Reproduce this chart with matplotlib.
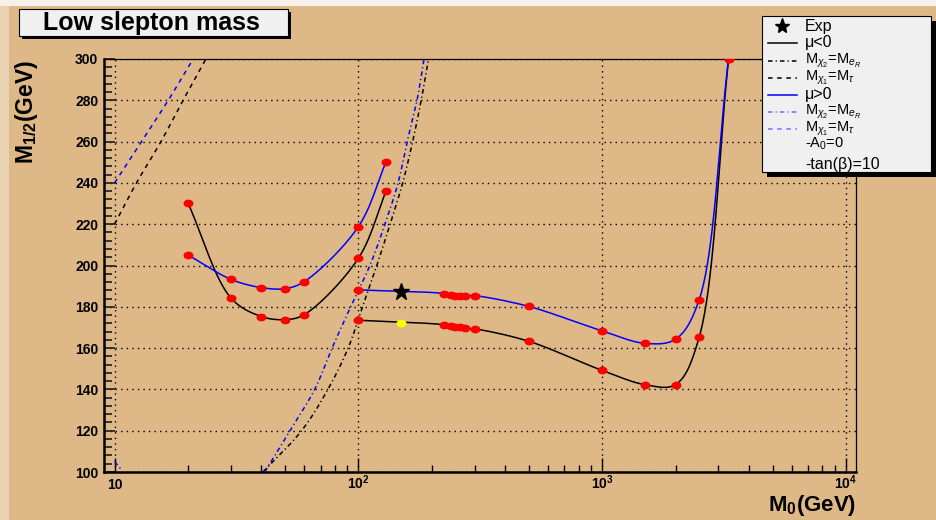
import numpy as np
import matplotlib
matplotlib.use("Agg")
import matplotlib.pyplot as plt
from matplotlib.path import Path
from matplotlib.transforms import Affine2D
from matplotlib.patches import Rectangle
from matplotlib.ticker import MultipleLocator, FixedLocator, NullFormatter

plt.rcParams["font.family"] = ["Liberation Sans", "DejaVu Sans"]
plt.rcParams["mathtext.fontset"] = "custom"
plt.rcParams["mathtext.rm"] = "Liberation Sans"
plt.rcParams["mathtext.it"] = "Liberation Sans:italic"
plt.rcParams["mathtext.bf"] = "Liberation Sans:bold"
plt.rcParams["mathtext.sf"] = "Liberation Sans"

# ---------------- data ----------------
# low-M0 branch of the exclusion contour
m0_low = [20, 30, 40, 50, 60, 100, 130]
m12_low_neg = [230.3, 184.3, 175.3, 173.8, 176.2, 203.5, 236.2]
m12_low_pos = [205.1, 193.3, 189.3, 188.8, 192.2, 218.8, 250.3]

# high-M0 branch
m0_high = [100, 225, 240, 250, 260, 275, 300, 500, 1000, 1500, 2000, 2500, 3300]
m12_high_neg = [173.5, 171.3, 170.5, 170.4, 170.3, 169.5, 169.3, 163.3, 149.2,
                142.3, 142.3, 165.2, 300]
m12_high_pos = [188.2, 186.4, 185.5, 185.4, 185.4, 185.4, 185.4, 180.2, 168.3,
                162.3, 164.3, 183.4, 300]

# experimental point
exp_m0 = [150]
exp_m12_pos = [187.3]
exp_m12_neg = [172.3]

# M_chi1 = M_stau boundaries
tau_neg_m0 = [10, 12.3, 15.5, 19.1, 23.7]
tau_neg_m12 = [220, 240, 260, 280, 300]
tau_pos_m0 = [10, 12.9, 16.6, 21.0]
tau_pos_m12 = [240, 260, 280, 300]

# M_chi2 = M_eR boundaries
eR_m12 = [100, 120, 140, 160, 180, 200, 220, 240, 260, 280, 300]
eR_neg_m0 = [40.6, 58.5, 75, 90.8, 104, 119, 135, 152, 167, 181, 194]
eR_pos_m0 = [41.3, 52.4, 66.2, 78, 93, 111.5, 128.5, 145.5, 158.6, 174, 186]
eR_pos_edge_m0 = [10, 10.7]
eR_pos_edge_m12 = [105, 101]

y_ticks = [100, 120, 140, 160, 180, 200, 220, 240, 260, 280, 300]
x_ticks = [10, 100, 1000, 10000]
x_tick_labels = ["10", r"$\mathbf{10^{2}}$", r"$\mathbf{10^{3}}$", r"$\mathbf{10^{4}}$"]

# ---------------- figure ----------------
W, H = 937, 520
BG = "#deb887"
fig = plt.figure(figsize=(W / 100, H / 100), dpi=100, facecolor=BG)

AX_L, AX_R, AX_T, AX_B = 104, 856, 59, 472
XMIN, XMAX = 9.05, 11000
YMIN, YMAX = 100, 300
ax = fig.add_axes([AX_L / W, 1 - AX_B / H, (AX_R - AX_L) / W, (AX_B - AX_T) / H])
ax.set_facecolor(BG)
ax.set_xscale("log")
ax.set_xlim(XMIN, XMAX)
ax.set_ylim(YMIN, YMAX)

kx = (AX_R - AX_L) / np.log10(XMAX / XMIN)
ky = (AX_B - AX_T) / (YMAX - YMIN)


def smooth(xs, ys, n=40):
    """Centripetal Catmull-Rom curve through the points, in screen-like units."""
    P = np.column_stack([np.log10(xs) * kx, np.asarray(ys, float) * ky])
    if len(P) < 3:
        return np.asarray(xs, float), np.asarray(ys, float)
    P = np.vstack([2 * P[0] - P[1], P, 2 * P[-1] - P[-2]])
    segs = []
    for i in range(1, len(P) - 2):
        p0, p1, p2, p3 = P[i - 1], P[i], P[i + 1], P[i + 2]
        t0 = 0.0
        t1 = t0 + np.linalg.norm(p1 - p0) ** 0.5
        t2 = t1 + np.linalg.norm(p2 - p1) ** 0.5
        t3 = t2 + np.linalg.norm(p3 - p2) ** 0.5
        t = np.linspace(t1, t2, n)[:, None]
        A1 = (t1 - t) / (t1 - t0) * p0 + (t - t0) / (t1 - t0) * p1
        A2 = (t2 - t) / (t2 - t1) * p1 + (t - t1) / (t2 - t1) * p2
        A3 = (t3 - t) / (t3 - t2) * p2 + (t - t2) / (t3 - t2) * p3
        B1 = (t2 - t) / (t2 - t0) * A1 + (t - t0) / (t2 - t0) * A2
        B2 = (t3 - t) / (t3 - t1) * A2 + (t - t1) / (t3 - t1) * A3
        C = (t2 - t) / (t2 - t1) * B1 + (t - t1) / (t2 - t1) * B2
        segs.append(C if i == 1 else C[1:])
    C = np.vstack(segs)
    return 10 ** (C[:, 0] / kx), C[:, 1] / ky


dashed = (0, (3.0, 3.0))
dashdot = (0, (3.0, 2.0, 0.8, 2.0))

# boundaries
ax.plot(*smooth(tau_neg_m0, tau_neg_m12), color="black", lw=1.1, ls=dashed, zorder=3)
ax.plot(*smooth(tau_pos_m0, tau_pos_m12), color="blue", lw=1.1, ls=dashed, zorder=3)
ax.plot(*smooth(eR_neg_m0, eR_m12), color="black", lw=1.1, ls=dashdot, zorder=3)
ax.plot(*smooth(eR_pos_m0, eR_m12), color="blue", lw=1.1, ls=dashdot, zorder=3)
ax.plot(eR_pos_edge_m0, eR_pos_edge_m12, color="blue", lw=1.1, ls=dashdot, zorder=3)

# contours
ax.plot(*smooth(m0_low, m12_low_neg), color="black", lw=1.1, zorder=4)
ax.plot(*smooth(m0_low, m12_low_pos), color="blue", lw=1.1, zorder=4)
ax.plot(*smooth(m0_high, m12_high_neg), color="black", lw=1.1, zorder=4)
ax.plot(*smooth(m0_high, m12_high_pos), color="blue", lw=1.1, zorder=4)

ellipse = Path.unit_circle().transformed(Affine2D().scale(1.0, 0.78))
mk = dict(marker=ellipse, ms=7.2, ls="none", mec="none", zorder=5)
for xs, ys in [(m0_low, m12_low_neg), (m0_low, m12_low_pos),
               (m0_high, m12_high_neg), (m0_high, m12_high_pos)]:
    ax.plot(xs, ys, mfc="red", **mk)
ax.plot(exp_m0, exp_m12_neg, mfc="yellow", **mk)
ax.plot(exp_m0, exp_m12_pos, marker="*", ms=12.5, color="black", ls="none", zorder=6)

# axes styling
ax.set_yticks(y_ticks)
ax.set_yticklabels([str(v) for v in y_ticks], fontweight="bold", fontsize=10)
ax.yaxis.set_minor_locator(MultipleLocator(4))
ax.set_xticks(x_ticks)
ax.set_xticklabels(x_tick_labels, fontweight="bold", fontsize=10, va="baseline")
ax.xaxis.set_minor_locator(FixedLocator([m * 10 ** e for e in range(1, 4) for m in range(2, 10)]))
ax.xaxis.set_minor_formatter(NullFormatter())
ax.tick_params(axis="y", which="major", direction="in", length=8, width=1.3, pad=4, color="#2a2a2a")
ax.tick_params(axis="y", which="minor", direction="in", length=5.5, width=1.3, color="#2a2a2a")
ax.tick_params(axis="x", which="major", direction="in", length=10, width=1.0, pad=12.5)
ax.tick_params(axis="x", which="minor", direction="in", length=5, width=1.0)
ax.grid(True, which="major", color="black", ls=(0, (1, 3)), lw=1.0)
for side in ("left", "bottom"):
    ax.spines[side].set_linewidth(1.8)
for side in ("top", "right"):
    ax.spines[side].set_linewidth(0.9)

fig.text(856 / W, 1 - 511 / H, r"$\mathbf{M_{0}}$(GeV)", fontweight="bold",
         fontsize=16, ha="right", va="baseline")
fig.text(27 / W, 1 - 60 / H, r"$\mathbf{M_{1/2}}$(GeV)", fontweight="bold",
         fontsize=16.5, rotation=90, ha="center", va="top")

# ---------------- overlay: frame bevel, title box, legend ----------------
ov = fig.add_axes([0, 0, 1, 1], zorder=10)
ov.set_xlim(0, W)
ov.set_ylim(H, 0)
ov.axis("off")
ov.patch.set_alpha(0)

ov.add_patch(Rectangle((0, 0), 9, H, fc="#e8d2b2", ec="none"))
ov.add_patch(Rectangle((0, 0), W, 6, fc="#f6f1ea", ec="none"))

ov.add_patch(Rectangle((22, 12), 269, 27, fc="black", ec="none"))
ov.add_patch(Rectangle((19, 9), 269, 27, fc="#f0f0f0", ec="black", lw=0.8))
ov.text(151, 23, "Low slepton mass", fontweight="bold", fontsize=18,
        ha="center", va="center")

ov.add_patch(Rectangle((767, 21), 169, 156, fc="black", ec="none"))
ov.add_patch(Rectangle((762, 16), 169, 156, fc="#f0f0f0", ec="black", lw=0.8))

light_blue = "#6f6fff"
rows = [
    ("star", None, None, "Exp", 26),
    ("line", "black", "-", "μ<0", 42.5),
    ("line", "black", dashdot, r"M$_{\chi_{2}}$=M$_{e_{R}}$", 60.5),
    ("line", "black", dashed, r"M$_{\chi_{1}}$=M$_{\tau}$", 77.5),
    ("line", "blue", "-", "μ>0", 94.5),
    ("line", light_blue, dashdot, r"M$_{\chi_{2}}$=M$_{e_{R}}$", 111.5),
    ("line", light_blue, dashed, r"M$_{\chi_{1}}$=M$_{\tau}$", 128.5),
    (None, None, None, r"-A$_{0}$=0", 144),
    (None, None, None, "-tan(β)=10", 164),
]
for kind, col, ls, label, y in rows:
    if kind == "star":
        ov.plot([782], [y], marker="*", ms=11, color="black", ls="none")
    elif kind == "line":
        ov.plot([768, 797], [y, y], color=col, ls=ls, lw=1.1)
    size = 10.5 if "$" in label else 11.5
    ov.text(805, y, label, fontsize=size, ha="left", va="center")

fig.savefig("out.png", dpi=100, facecolor=BG)
